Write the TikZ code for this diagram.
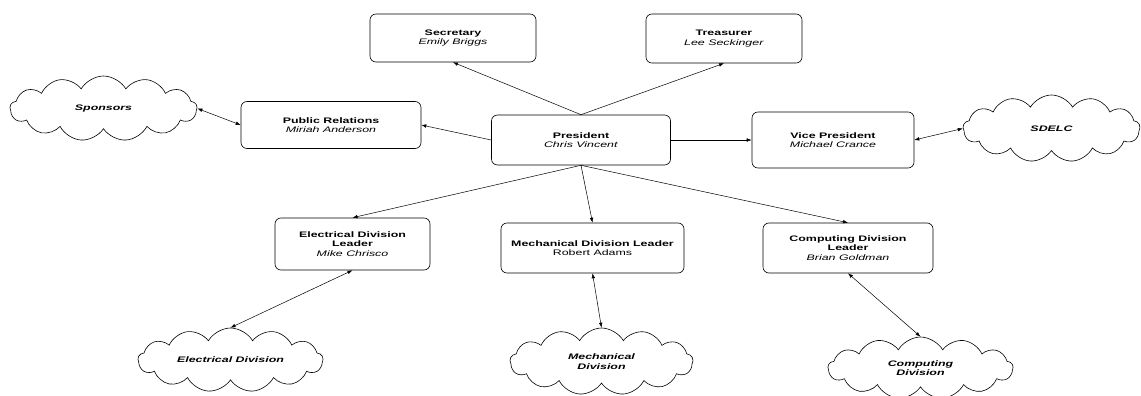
\documentclass[tikz,border=0pt]{standalone}
\usepackage{fontspec}
\setmainfont{Liberation Sans}[FakeStretch=1.55]
\usetikzlibrary{shapes.symbols,arrows.meta}

\tikzset{
  role/.style={draw, line width=0.6pt, rounded corners=6pt, align=center,
    inner sep=1pt, font=\fontsize{8}{9.5}\selectfont},
  group/.style={draw, line width=0.6pt, cloud, cloud puffs=13, cloud puff arc=120,
    cloud ignores aspect, inner sep=1pt, align=center,
    font=\fontsize{8}{9.5}\selectfont\bfseries\itshape},
  link/.style={line width=0.5pt, -{Latex[length=5pt,width=3.6pt]}},
  both/.style={line width=0.5pt, {Latex[length=5pt,width=3.6pt]}-{Latex[length=5pt,width=3.6pt]}}
}

\begin{document}
\begin{tikzpicture}[x=1pt, y=-1pt]
\useasboundingbox (0,0) rectangle (1141,396);

% officers
\node[role, minimum width=179pt, minimum height=50pt] (pres) at (581,140)
  {\textbf{President}\\\textit{Chris Vincent}};
\node[role, minimum width=166pt, minimum height=48pt] (sec) at (453,38)
  {\textbf{Secretary}\\\textit{Emily Briggs}};
\node[role, minimum width=156pt, minimum height=49pt] (tre) at (724,38.5)
  {\textbf{Treasurer}\\\textit{Lee Seckinger}};
\node[role, minimum width=180pt, minimum height=47pt] (pr) at (331,125)
  {\textbf{Public Relations}\\\textit{Miriah Anderson}};
\node[role, minimum width=162pt, minimum height=56pt] (vp) at (833,140)
  {\textbf{Vice President}\\\textit{Michael Crance}};

% division leaders
\node[role, minimum width=155pt, minimum height=52pt] (el) at (352.5,244)
  {\textbf{Electrical Division}\\\textbf{Leader}\\\textit{Mike Chrisco}};
\node[role, minimum width=183pt, minimum height=50pt] (mech) at (592.5,248)
  {\textbf{Mechanical Division Leader}\\Robert Adams};
\node[role, minimum width=170pt, minimum height=50pt] (comp) at (848,248)
  {\textbf{Computing Division}\\\textbf{Leader}\\\textit{Brian Goldman}};

% outside groups
\node[group, minimum width=187pt, minimum height=65pt] (spon) at (103.5,108.5) {Sponsors};
\node[group, minimum width=177pt, minimum height=67pt] (sdelc) at (1051.5,128.5) {SDELC};
\node[group, minimum width=185pt, minimum height=64pt] (elc) at (230.5,360) {Electrical Division};
\node[group, minimum width=183pt, minimum height=67pt] (mechc) at (601.5,361.5) {Mechanical\\Division};
\node[group, minimum width=185pt, minimum height=62pt] (compc) at (920.5,368) {Computing\\Division};

% reporting lines
\draw[link] (pres.north) -- (sec.south);
\draw[link] (pres.north) -- (tre.south);
\draw[link] (pres.west) -- (pr.east);
\draw[link] (pres.east) -- (vp.west);
\draw[link] (pres.south) -- (el.north);
\draw[link] (pres.south) -- (mech.north);
\draw[link] (pres.south) -- (comp.north);

% two-way contacts
\draw[both] (spon.east) -- (pr.west);
\draw[both] (vp.east) -- (sdelc.west);
\draw[both] (el.south) -- (elc.north);
\draw[both] (mech.south) -- (mechc.north);
\draw[both] (comp.south) -- (compc.north);
\end{tikzpicture}
\end{document}
